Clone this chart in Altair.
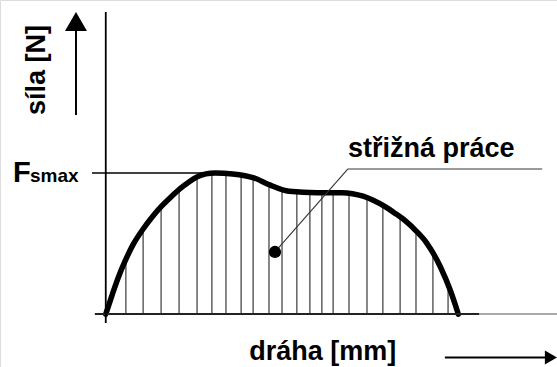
import altair as alt
import pandas as pd

# Force-displacement curve of a shearing cut (displacement in mm, force in N)
path_mm = [0, 0.18, 0.35, 0.55, 0.77, 1.06, 1.34, 1.59, 1.85, 2.1, 2.36, 2.59,
           2.84, 3.1, 3.6, 4.2, 4.65, 5.2, 6.0, 6.7, 7.0, 7.3, 7.6, 7.9, 8.2,
           8.5, 8.8, 9.1, 9.5, 9.77, 10]
force_n = [0, 13.5, 25.6, 37.6, 49, 60.3, 69.5, 76.6, 83, 88.7, 93.6, 97.2,
           99.3, 100, 99.3, 96.5, 91.5, 87, 86, 86, 85.3, 83.5, 80.5, 76.5, 71.5,
           66, 59, 50.5, 33, 17, 0]

# Hatching under the curve (the shearing work)
hatch_mm = [0.57, 1.06, 1.57, 2.08, 2.59, 3.01, 3.41, 3.84, 4.18, 4.63, 5.0,
            5.42, 5.79, 6.13, 6.45, 6.90, 7.41, 7.86, 8.35, 8.80, 9.28, 9.71]

FS_MAX = 100
FONT = "Liberation Sans"

W, H = 557, 367
xs = alt.Scale(domain=[-3.0, 12.8], nice=False, zero=False)
ys = alt.Scale(domain=[-37.5, 222.5], nice=False, zero=False)


def X(field="x"):
    return alt.X(f"{field}:Q", scale=xs, axis=None)


def Y(field="y"):
    return alt.Y(f"{field}:Q", scale=ys, axis=None)


curve = pd.DataFrame({"x": path_mm, "y": force_n, "top": [FS_MAX + 4] * len(path_mm)})

# vertical hatch lines, trimmed to the curve by the white mask drawn above them
hatch = alt.Chart(pd.DataFrame({"x": hatch_mm, "y": 0, "y2": FS_MAX + 2})).mark_rule(
    color="#555555", strokeWidth=1.4
).encode(x=X(), y=Y(), y2="y2:Q")

mask = alt.Chart(curve).mark_area(color="white", interpolate="monotone", opacity=1).encode(
    x=X(), y=Y(), y2="top:Q"
)

line = alt.Chart(curve).mark_line(
    color="black", strokeWidth=5.5, interpolate="monotone", strokeCap="round"
).encode(x=X(), y=Y())


def seg(x1, y1, x2, y2, color="black", width=1.5):
    df = pd.DataFrame({"x": [x1], "y": [y1], "x2": [x2], "y2": [y2]})
    return alt.Chart(df).mark_rule(color=color, strokeWidth=width).encode(
        x=X(), y=Y(), x2="x2:Q", y2="y2:Q"
    )


baseline_dark = seg(-0.31, 0, 10.6, 0, "#222222", 2)
baseline_light = seg(10.6, 0, 12.8, 0, "#aaaaaa", 2)
y_axis = seg(0, -6.3, 0, 214, "black", 1.8)
fs_line = seg(-0.39, FS_MAX, 3.1, FS_MAX, "black", 1.5)

# annotation: leader line, underline and dot
leader = seg(6.87, 102.8, 4.80, 44.0, "#333333", 1.1)
underline = seg(6.87, 102.8, 12.38, 102.8, "#9a9a9a", 2)
dot = alt.Chart(pd.DataFrame({"x": [4.80], "y": [44.0]})).mark_circle(
    color="black", size=150, opacity=1
).encode(x=X(), y=Y())

# direction arrows next to the axis titles
up_shaft = seg(-0.845, 141, -0.845, 203, "black", 2)
up_head = alt.Chart(pd.DataFrame({"x": [-0.845], "y": [207.3]})).mark_point(
    shape="triangle-up", filled=True, size=484, color="black", opacity=1
).encode(x=X(), y=Y())
right_shaft = seg(9.62, -30.8, 12.5, -30.8, "black", 2)
right_head = alt.Chart(pd.DataFrame({"x": [12.63], "y": [-30.8]})).mark_point(
    shape="triangle-right", filled=True, size=200, color="black", opacity=1
).encode(x=X(), y=Y())


def label(x, y, text, size, align="left", angle=0):
    df = pd.DataFrame({"x": [x], "y": [y], "t": [text]})
    kw = dict(align=align, baseline="alphabetic", font=FONT, fontSize=size,
              fontWeight="bold", color="black")
    if angle:
        kw["angle"] = angle
    return alt.Chart(df).mark_text(**kw).encode(x=X(), y=Y(), text="t:N")


x_title = label(4.07, -32.3, "dráha [mm]", 27)
y_title = label(-1.725, 172.9, "síla [N]", 27, align="center", angle=270)
f_big = label(-2.63, 93.6, "F", 29)
f_sub = label(-2.15, 93.6, "smax", 19)
work = label(6.87, 111.3, "střižná práce", 27)

chart = alt.layer(
    hatch, mask, line, baseline_dark, baseline_light, y_axis, fs_line,
    leader, underline, dot, up_shaft, up_head, right_shaft, right_head,
    x_title, y_title, f_big, f_sub, work,
).properties(
    width=W, height=H, padding=0, autosize=alt.AutoSizeParams(type="none")
).configure_view(stroke=None).configure(background="white")

chart.save("out.html", embed_options={"renderer": "svg", "actions": False})
